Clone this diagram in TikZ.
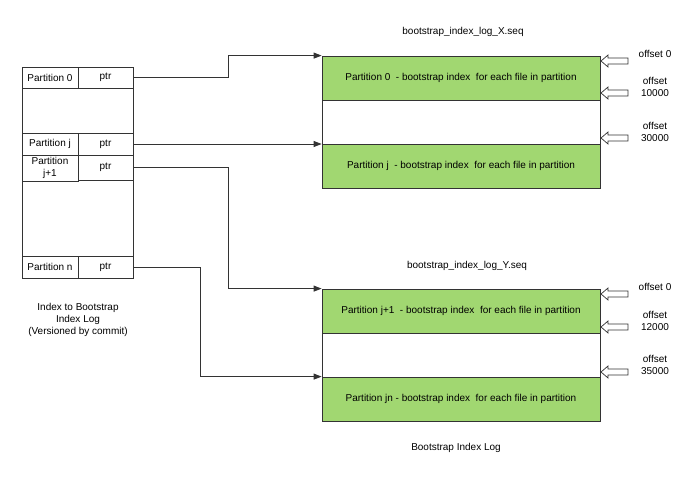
\documentclass[tikz,border=0pt]{standalone}
\usepackage{fontspec}
\setmainfont{Liberation Sans}
\usetikzlibrary{arrows.meta}
\definecolor{logGreen}{RGB}{161,215,113}
\definecolor{lineGray}{RGB}{51,51,51}
\tikzset{
    every node/.append style={align=center,font=\fontsize{10}{12}\selectfont},
    cell/.style={rectangle,draw=lineGray,line width=0.8pt,minimum height=22pt,inner sep=1pt},
    blk/.style={rectangle,draw=lineGray,line width=0.8pt,minimum width=278pt,minimum height=44pt},
    arr/.style={-{Triangle[length=8pt,width=6pt]},line width=0.9pt,draw=lineGray},
    offarr/.style={draw=lineGray,fill=white,line width=0.7pt,line join=miter},
    lbl/.style={inner sep=1pt}
}
\begin{document}
\begin{tikzpicture}[x=1pt,y=-1pt]
    \useasboundingbox[fill=white] (0,0) rectangle (700,500);

    % index table
    \node[cell,minimum width=111pt,minimum height=211pt] (idx) at (77.5,172.5) {};
    \node[cell,minimum width=56pt,minimum height=21pt] (p0)    at (50,77.5)    {Partition 0};
    \node[cell,minimum width=55pt,minimum height=21pt] (p0ptr) at (105.5,77.5) {ptr};
    \node[cell,minimum width=56pt] (pj)    at (50,144)    {Partition j};
    \node[cell,minimum width=55pt] (pjptr) at (105.5,144) {ptr};
    \node[cell,minimum width=56pt,minimum height=26pt] (pj1)    at (50,168)    {Partition\\j+1};
    \node[cell,minimum width=55pt,minimum height=25pt] (pj1ptr) at (105.5,167.5) {ptr};
    \node[cell,minimum width=56pt] (pn)    at (50,267)    {Partition n};
    \node[cell,minimum width=55pt] (pnptr) at (105.5,267) {ptr};
    \node[lbl] (idxlbl) at (78,320) {Index to Bootstrap\\Index Log\\(Versioned by commit)};

    % log files
    \node[lbl] (xtitle) at (463,32) {bootstrap\_index\_log\_X.seq};
    \node[blk,fill=logGreen] (x0)   at (461,78)  {Partition 0~ - bootstrap index~ for each file in partition};
    \node[blk,fill=white]    (xgap) at (461,122) {};
    \node[blk,fill=logGreen] (xj)   at (461,166) {Partition j~ - bootstrap index~ for each file in partition};

    \node[lbl] (ytitle) at (467,266) {bootstrap\_index\_log\_Y.seq};
    \node[blk,fill=logGreen] (y1)   at (461,311) {Partition j+1~ - bootstrap index~ for each file in partition};
    \node[blk,fill=white]    (ygap) at (461,355) {};
    \node[blk,fill=logGreen] (yn)   at (461,399) {Partition jn - bootstrap index~ for each file in partition};
    \node[lbl] (logname) at (456,448) {Bootstrap Index Log};

    % offsets
    \foreach \y/\n in {61/ox0,93/ox1,138/ox2,294/oy0,327/oy1,372/oy2} {
        \coordinate (\n) at (601,\y);
        \draw[offarr] (\n) -- ++(7,-6) -- ++(0,3) -- ++(20,0) -- ++(0,6) -- ++(-20,0) -- ++(0,3) -- cycle;
    }
    \node[lbl] (lx0) at (655,54)  {offset 0};
    \node[lbl] (lx1) at (655,87)  {offset\\10000};
    \node[lbl] (lx2) at (655,132) {offset\\30000};
    \node[lbl] (ly0) at (655,287) {offset 0};
    \node[lbl] (ly1) at (655,321) {offset\\12000};
    \node[lbl] (ly2) at (655,365) {offset\\35000};

    % pointers
    \draw[arr] (p0ptr.east) -- (228,77.5) |- (x0.north west);
    \draw[arr] (pjptr.east) -- (pjptr.east -| xj.west);
    \draw[arr] (pj1ptr.east) -- (228,167.5) |- (y1.north west);
    \draw[arr] (pnptr.east) -- (200,267) |- (yn.north west);
\end{tikzpicture}
\end{document}
